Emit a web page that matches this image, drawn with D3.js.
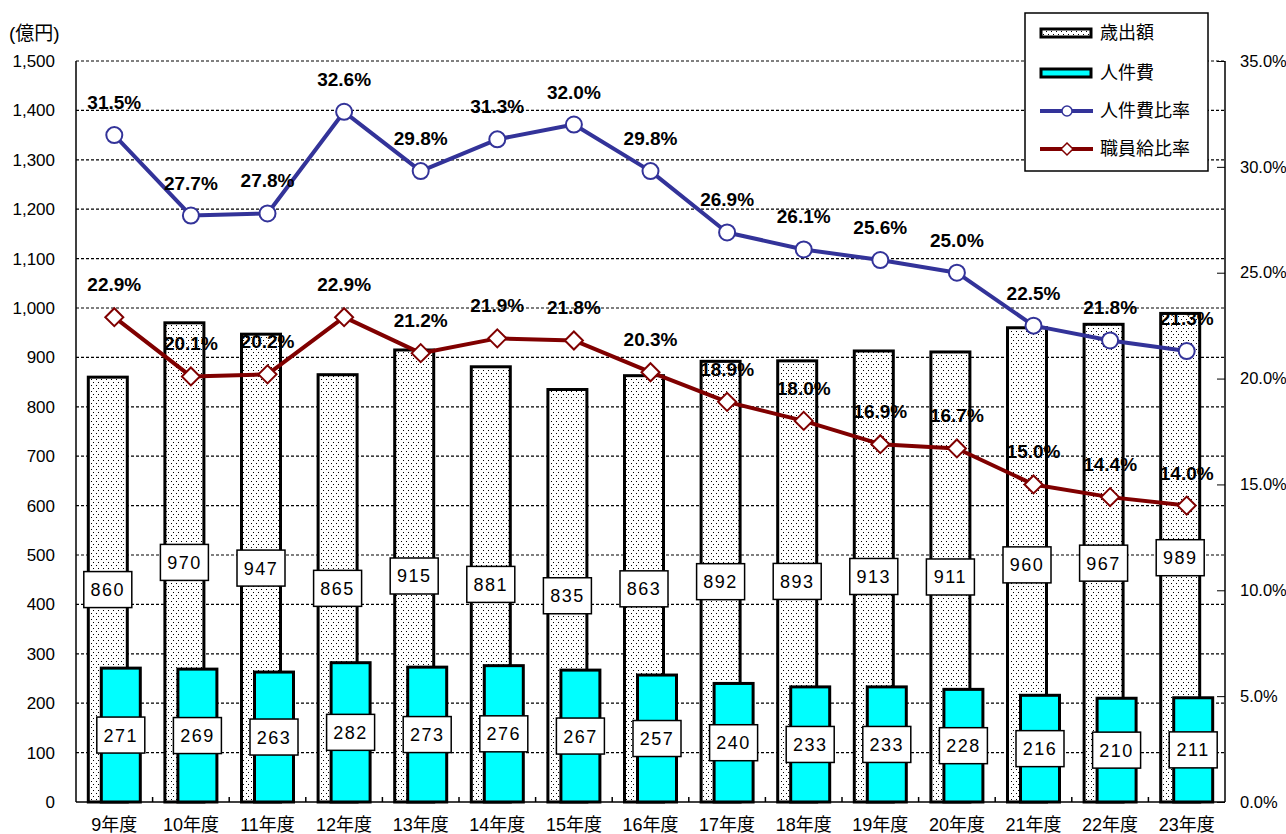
<!DOCTYPE html>
<html><head><meta charset="utf-8">
<script src="https://d3js.org/d3.v7.min.js"></script>
<style>
html,body{margin:0;padding:0;background:#fff;}
svg{display:block;}
text{font-family:"Liberation Sans","Noto Sans CJK JP",sans-serif;}
</style></head>
<body>
<script>
const categories = ["9年度","10年度","11年度","12年度","13年度","14年度","15年度","16年度","17年度","18年度","19年度","20年度","21年度","22年度","23年度"];
const expenditure = [860,970,947,865,915,881,835,863,892,893,913,911,960,967,989];
const personnel = [271,269,263,282,273,276,267,257,240,233,233,228,216,210,211];
const personnelRatio = [31.5,27.7,27.8,32.6,29.8,31.3,32.0,29.8,26.9,26.1,25.6,25.0,22.5,21.8,21.3];
const salaryRatio = [22.9,20.1,20.2,22.9,21.2,21.9,21.8,20.3,18.9,18.0,16.9,16.7,15.0,14.4,14.0];
const leftTicks = [0,100,200,300,400,500,600,700,800,900,1000,1100,1200,1300,1400,1500];
const rightTicks = [0,5,10,15,20,25,30,35];
const seriesNames = ["歳出額","人件費","人件費比率","職員給比率"];
const unitLabel = "(億円)";

const W = 1286, H = 834;
const L = 76, R = 1225, T = 61, B = 802;
const FONT = "'Liberation Sans','Noto Sans CJK JP',sans-serif";
const svg = d3.select("body").append("svg").attr("width", W).attr("height", H);

const defs = svg.append("defs");
const pat = defs.append("pattern").attr("id","dots").attr("patternUnits","userSpaceOnUse")
  .attr("width",5).attr("height",6);
pat.append("rect").attr("width",5).attr("height",6).attr("fill","#fff");
pat.append("rect").attr("x",1).attr("y",1).attr("width",1).attr("height",1).attr("fill","#000");
pat.append("rect").attr("x",3).attr("y",4).attr("width",1).attr("height",1).attr("fill","#000");

const x = d3.scaleBand().domain(categories).range([L, R]).padding(0);
const yL = d3.scaleLinear().domain([0,1500]).range([B, T]);
const yR = d3.scaleLinear().domain([0,35]).range([B, T]);
const bw = x.bandwidth();
const barW = 39;
const off = 6.5;
const cx = c => x(c) + bw/2;

// gridlines
svg.append("g").selectAll("line").data(leftTicks.filter(d=>d>0)).join("line")
  .attr("x1", L).attr("x2", R).attr("y1", d=>yL(d)).attr("y2", d=>yL(d))
  .attr("stroke","#000").attr("stroke-width",1.2).attr("stroke-dasharray","3,2");

// left axis labels
const gl = svg.append("g").attr("transform",`translate(${L},0)`)
  .call(d3.axisLeft(yL).tickValues(leftTicks).tickFormat(d3.format(",")).tickSize(0).tickPadding(21));
gl.select(".domain").remove();
gl.selectAll("text").attr("font-size",17).attr("fill","#000").attr("font-family",FONT);

// right axis
const gr = svg.append("g").attr("transform",`translate(${R},0)`)
  .call(d3.axisLeft(yR).tickValues(rightTicks).tickFormat(d=>d3.format(".1f")(d)+"%").tickSize(8));
gr.select(".domain").remove();
gr.selectAll("line").attr("stroke","#000");
gr.selectAll("text").attr("x",15).attr("text-anchor","start").attr("font-size",16.5).attr("fill","#000")
  .attr("font-family",FONT);

svg.append("text").attr("x",9).attr("y",40).attr("font-size",19).text(unitLabel);

// expenditure bars
svg.append("g").selectAll("rect").data(expenditure).join("rect")
  .attr("x",(d,i)=>cx(categories[i]) - off - barW/2).attr("width",barW)
  .attr("y",d=>yL(d)).attr("height",d=>yL(0)-yL(d))
  .attr("fill","url(#dots)").attr("stroke","#000").attr("stroke-width",3);

// personnel bars
svg.append("g").selectAll("rect").data(personnel).join("rect")
  .attr("x",(d,i)=>cx(categories[i]) + off - barW/2).attr("width",barW)
  .attr("y",d=>yL(d)).attr("height",d=>yL(0)-yL(d))
  .attr("fill","#00ffff").attr("stroke","#000").attr("stroke-width",3);

// axes lines
svg.append("line").attr("x1",L).attr("x2",L).attr("y1",T).attr("y2",B).attr("stroke","#000").attr("stroke-width",1.5);
svg.append("line").attr("x1",R).attr("x2",R).attr("y1",T).attr("y2",B).attr("stroke","#000").attr("stroke-width",1.5);
svg.append("line").attr("x1",L).attr("x2",R).attr("y1",B).attr("y2",B).attr("stroke","#000").attr("stroke-width",1.5);
svg.append("g").selectAll("line").data(categories.slice(1)).join("line")
  .attr("x1",d=>x(d)).attr("x2",d=>x(d)).attr("y1",B).attr("y2",B-5).attr("stroke","#000").attr("stroke-width",1.5);

// x labels
svg.append("g").selectAll("text").data(categories).join("text")
  .attr("x",d=>cx(d)).attr("y",831).attr("text-anchor","middle").attr("font-size",18).text(d=>d);

// value label boxes
function valueBoxes(data, dx){
  const g = svg.append("g");
  const items = g.selectAll("g").data(data).join("g")
    .attr("transform",(d,i)=>`translate(${cx(categories[i])+dx},${yL(d/2)})`);
  items.append("rect").attr("x",-24).attr("y",-18).attr("width",48).attr("height",36)
    .attr("fill","#fff").attr("stroke","#000").attr("stroke-width",1.5);
  items.append("text").attr("text-anchor","middle").attr("dy","0.36em").attr("font-size",18)
    .attr("letter-spacing",1.5).text(d=>d);
}
valueBoxes(expenditure, -off);
valueBoxes(personnel, off);

// lines
function drawLine(data, color, marker){
  const line = d3.line().x((d,i)=>cx(categories[i])).y(d=>yR(d));
  svg.append("path").datum(data).attr("d",line).attr("fill","none")
    .attr("stroke",color).attr("stroke-width",4).attr("stroke-linejoin","round");
  const g = svg.append("g");
  if(marker==="circle"){
    g.selectAll("circle").data(data).join("circle")
      .attr("cx",(d,i)=>cx(categories[i])).attr("cy",d=>yR(d)).attr("r",8)
      .attr("fill","#fff").attr("stroke",color).attr("stroke-width",2);
  } else {
    g.selectAll("path").data(data).join("path")
      .attr("transform",(d,i)=>`translate(${cx(categories[i])},${yR(d)})`)
      .attr("d","M0,-9L9,0L0,9L-9,0Z")
      .attr("fill","#fff").attr("stroke",color).attr("stroke-width",2);
  }
  svg.append("g").selectAll("text").data(data).join("text")
    .attr("x",(d,i)=>cx(categories[i])).attr("y",d=>yR(d)-26)
    .attr("text-anchor","middle").attr("font-size",19).attr("font-weight","bold")
    .text(d=>d3.format(".1f")(d)+"%");
}
drawLine(personnelRatio, "#333399", "circle");
drawLine(salaryRatio, "#800000", "diamond");

// legend
const lg = svg.append("g");
lg.append("rect").attr("x",1025).attr("y",13).attr("width",183).attr("height",158)
  .attr("fill","#fff").attr("stroke","#000").attr("stroke-width",1.5);
const ly = [33,73,111,149];
lg.append("rect").attr("x",1041).attr("y",ly[0]-4).attr("width",50).attr("height",8)
  .attr("fill","url(#dots)").attr("stroke","#000").attr("stroke-width",3);
lg.append("rect").attr("x",1041).attr("y",ly[1]-4).attr("width",50).attr("height",8)
  .attr("fill","#00ffff").attr("stroke","#000").attr("stroke-width",3);
lg.append("line").attr("x1",1040).attr("x2",1093).attr("y1",ly[2]).attr("y2",ly[2]).attr("stroke","#333399").attr("stroke-width",4);
lg.append("circle").attr("cx",1067).attr("cy",ly[2]).attr("r",5).attr("fill","#fff").attr("stroke","#333399").attr("stroke-width",1.5);
lg.append("line").attr("x1",1040).attr("x2",1093).attr("y1",ly[3]).attr("y2",ly[3]).attr("stroke","#800000").attr("stroke-width",4);
lg.append("path").attr("transform",`translate(1067,${ly[3]})`).attr("d","M0,-6L6,0L0,6L-6,0Z").attr("fill","#fff").attr("stroke","#800000").attr("stroke-width",1.5);
lg.selectAll("text").data(seriesNames).join("text")
  .attr("x",1100).attr("y",(d,i)=>ly[i]).attr("dy","0.35em").attr("font-size",18).text(d=>d);
</script>
</body></html>
